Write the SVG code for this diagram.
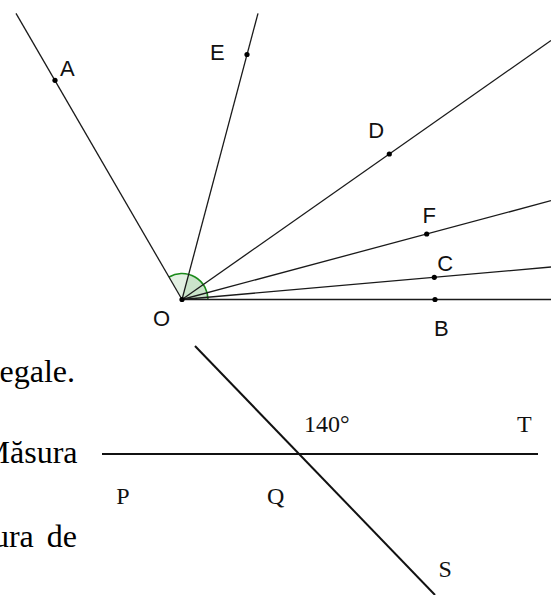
<svg xmlns="http://www.w3.org/2000/svg" width="551" height="595" viewBox="0 0 551 595">
<style>
.ray{stroke:#1a1a1a;stroke-width:1.3;fill:none}
.ln{stroke:#111;stroke-width:2;fill:none}
.pt{fill:#000}
.lbl{font-family:"Liberation Sans",Arial,sans-serif;font-size:22px;fill:#111}
.tr{font-family:"Liberation Serif","Times New Roman",serif;font-size:24px;fill:#111}
.par{font-family:"Liberation Serif","Times New Roman",serif;font-size:32px;fill:#000;text-anchor:end}
.sec{fill:#008000;fill-opacity:0.11;stroke:none}
.arc{fill:none;stroke:#1a8a1a;stroke-width:1.6}
</style>
<rect width="551" height="595" fill="#fff"/>
<g id="angle">
<path class="sec" d="M182,299.5 L208,299.5 A26,26 0 0 0 169,277 Z"/>
<path class="sec" d="M182,299.5 L208,299.5 A26,26 0 0 0 188.67,274.37 Z"/>
<path class="arc" d="M208,299.5 A26,26 0 0 0 169,277"/>
</g>
<g id="connectors">
<line class="ray" x1="182" y1="299.5" x2="16" y2="13.3"/>
<line class="ray" x1="182" y1="299.5" x2="258" y2="13.3"/>
<line class="ray" x1="182" y1="299.5" x2="551" y2="40.5"/>
<line class="ray" x1="182" y1="299.5" x2="551" y2="200.7"/>
<line class="ray" x1="182" y1="299.5" x2="551" y2="267"/>
<line class="ray" x1="182" y1="299.5" x2="551" y2="299.5"/>
<line class="ln" x1="102" y1="454" x2="538" y2="454"/>
<line class="ln" x1="195" y1="346" x2="435" y2="595"/>
</g>
<g id="O"><circle class="pt" cx="182" cy="299.5" r="2.6"/><text class="lbl" x="153" y="326">O</text></g>
<g id="A"><circle class="pt" cx="55" cy="80.3" r="2.6"/><text class="lbl" x="60" y="76">A</text></g>
<g id="E"><circle class="pt" cx="247" cy="54.5" r="2.6"/><text class="lbl" x="210" y="60">E</text></g>
<g id="D"><circle class="pt" cx="389.3" cy="154" r="2.6"/><text class="lbl" x="368.3" y="138">D</text></g>
<g id="F"><circle class="pt" cx="426.7" cy="234" r="2.6"/><text class="lbl" x="422.6" y="223">F</text></g>
<g id="C"><circle class="pt" cx="434.3" cy="277.3" r="2.6"/><text class="lbl" x="437.2" y="270.5">C</text></g>
<g id="B"><circle class="pt" cx="435" cy="299.5" r="2.6"/><text class="lbl" x="434" y="336">B</text></g>
<g id="P"><text class="tr" x="116.3" y="504">P</text></g>
<g id="Q"><text class="tr" x="267" y="504">Q</text></g>
<g id="T"><text class="tr" x="517" y="432">T</text></g>
<g id="S"><text class="tr" x="438.5" y="577.3">S</text></g>
<g id="angle140"><text class="tr" x="304" y="432">140°</text></g>
<g id="paragraph">
<text class="par" x="75" y="382">egale.</text>
<text class="par" x="77.5" y="463">Măsura</text>
<text class="par" x="77" y="547" word-spacing="5">ura de</text>
</g>
</svg>
